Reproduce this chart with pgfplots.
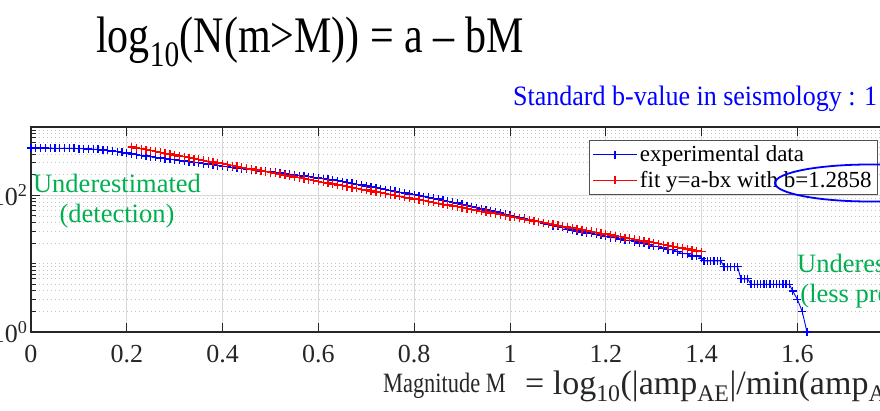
\documentclass[border=0pt]{standalone}
\usepackage{fontspec}
\setmainfont{Liberation Serif}
\usepackage{pgfplots}
\pgfplotsset{compat=1.18}
\definecolor{axgray}{rgb}{0.15,0.15,0.15}
\definecolor{ggreen}{RGB}{0,176,80}
\definecolor{sblue}{RGB}{0,0,255}
\newcommand{\fs}[1]{\fontsize{#1}{#1}\selectfont}
\begin{document}
\begin{tikzpicture}[x=1pt,y=1pt]
\path[use as bounding box, clip] (0,0) rectangle (880,410);
\begin{axis}[
  at={(31pt,78pt)}, anchor=south west,
  scale only axis, width=958pt, height=205pt,
  xmin=0, xmax=2, ymin=1, ymax=1000, ymode=log,
  xtick={0,0.2,0.4,0.6,0.8,1,1.2,1.4,1.6},
  ytick={1,100}, yticklabels={10\textsuperscript{0},10\textsuperscript{2}},
  minor ytick={2,3,4,5,6,7,8,9,10,20,30,40,50,60,70,80,90,200,300,400,500,600,700,800,900},
  tick align=inside, major tick length=9pt, minor tick length=5pt,
  axis line style={axgray, line width=1.4pt},
  every tick/.style={axgray, line width=1pt},
  xmajorgrids, ymajorgrids, yminorgrids,
  major grid style={gray!30, line width=0.9pt},
  minor grid style={gray!45, line width=0.8pt, dash pattern=on 0.8pt off 3.2pt},
  ticklabel style={font=\fs{26}, text=axgray},
  xticklabel style={yshift=-10pt},
  /pgf/number format/assume math mode=true,
  legend style={at={(0.5825,0.9366)}, anchor=north west, draw=axgray!80, line width=1pt,
    font=\fs{23}, inner sep=3pt, row sep=3pt, nodes={inner sep=2.5pt}, cells={anchor=west}},
  legend image code/.code={\draw[mark repeat=2,mark phase=2,#1] plot coordinates {(0pt,0pt) (22pt,0pt) (44pt,0pt)};},
]
\addplot[sblue, line width=0.9pt, mark=+, mark size=4pt, mark options={line width=1.3pt}] coordinates {
(0,492)(0.01,492)(0.02,491)(0.03,491)(0.04,490)(0.05,489)(0.06,488)(0.07,487)(0.08,486)(0.09,485)(0.10,483)(0.11,481)(0.12,478)(0.13,474)(0.14,469)(0.15,463)(0.16,456)(0.17,447)(0.18,437)(0.19,427)(0.20,415)
(0.21,403)(0.22,394)(0.23,385)(0.24,376)(0.25,367)(0.26,359)(0.27,352)(0.28,345)(0.29,338)(0.30,331)
(0.31,325)(0.32,318)(0.33,312)(0.34,305)(0.35,299)(0.36,292)(0.37,286)(0.38,280)(0.39,273)(0.40,267)
(0.41,262)(0.42,256)(0.43,251)(0.44,246)(0.45,241)(0.46,237)(0.47,233)(0.48,228)(0.49,224)(0.50,220)
(0.51,216)(0.52,212)(0.53,207)(0.54,203)(0.55,199)(0.56,195)(0.57,191)(0.58,187)(0.59,183)(0.60,180)
(0.61,175)(0.62,171)(0.63,167)(0.64,163)(0.65,159)(0.66,154)(0.67,149)(0.68,145)(0.69,141)(0.70,137)
(0.71,133)(0.72,129)(0.73,125)(0.74,121)(0.75,118)(0.76,114)(0.77,111)(0.78,108)(0.79,105)(0.80,102)
(0.81,99)(0.82,96)(0.83,93)(0.84,90)(0.85,88)(0.86,85)(0.87,82)(0.88,79)(0.89,77)(0.90,74)
(0.91,71)(0.92,68)(0.93,66)(0.94,63)(0.95,61)(0.96,59)(0.97,57)(0.98,55)(0.99,53)(1.00,51)
(1.01,49)(1.02,47)(1.03,46)(1.04,44)(1.05,42)(1.06,41)(1.07,39)(1.08,38)(1.09,36)(1.10,35)
(1.11,34)(1.12,32)(1.13,31)(1.14,30)(1.15,29)(1.16,28)(1.17,28)(1.18,27)(1.19,26)(1.20,25)
(1.21,24)(1.22,24)(1.23,23)(1.24,22)(1.25,22)(1.26,21)(1.27,20)(1.28,20)(1.29,19)(1.30,18)
(1.31,18)(1.32,17)(1.33,16)(1.34,16)(1.35,15)(1.36,14)(1.37,14)(1.38,13)(1.39,13)(1.40,12)
(1.405,11)(1.412,11)(1.419,11)(1.426,11)(1.433,11)(1.440,11)(1.447,9)(1.454,9)(1.461,9)(1.468,9)(1.475,9)
(1.482,6)(1.489,6)(1.496,6)
(1.503,5)(1.510,5)(1.516,5)(1.523,5)(1.530,5)(1.536,5)(1.543,5)(1.550,5)(1.556,5)(1.563,5)(1.570,5)(1.576,5)(1.583,5)
(1.590,4)(1.600,3)(1.610,2)(1.620,1)
};
\addlegendentry{experimental data}
\addplot[red, line width=0.9pt, mark=+, mark size=4pt, mark options={line width=1.3pt}] coordinates {
(0.21,508.1)(0.22,493.3)(0.23,478.9)(0.24,464.9)(0.25,451.4)(0.26,438.2)(0.27,425.4)(0.28,413.0)(0.29,400.9)(0.30,389.2)
(0.31,377.9)(0.32,366.9)(0.33,356.2)(0.34,345.8)(0.35,335.7)(0.36,325.9)(0.37,316.4)(0.38,307.2)(0.39,298.2)(0.40,289.5)
(0.41,281.1)(0.42,272.9)(0.43,264.9)(0.44,257.2)(0.45,249.7)(0.46,242.4)(0.47,235.3)(0.48,228.5)(0.49,221.8)(0.50,215.3)
(0.51,209.1)(0.52,203.0)(0.53,197.1)(0.54,191.3)(0.55,185.7)(0.56,180.3)(0.57,175.1)(0.58,170.0)(0.59,165.0)(0.60,160.2)
(0.61,155.5)(0.62,151.0)(0.63,146.6)(0.64,142.3)(0.65,138.1)(0.66,134.1)(0.67,130.2)(0.68,126.4)(0.69,122.7)(0.70,119.1)
(0.71,115.6)(0.72,112.2)(0.73,109.0)(0.74,105.8)(0.75,102.7)(0.76,99.7)(0.77,96.8)(0.78,94.0)(0.79,91.2)(0.80,88.6)
(0.81,86.0)(0.82,83.5)(0.83,81.1)(0.84,78.7)(0.85,76.4)(0.86,74.2)(0.87,72.0)(0.88,69.9)(0.89,67.9)(0.90,65.9)
(0.91,64.0)(0.92,62.1)(0.93,60.3)(0.94,58.5)(0.95,56.8)(0.96,55.2)(0.97,53.6)(0.98,52.0)(0.99,50.5)(1.00,49.0)
(1.01,47.6)(1.02,46.2)(1.03,44.8)(1.04,43.5)(1.05,42.3)(1.06,41.0)(1.07,39.8)(1.08,38.7)(1.09,37.5)(1.10,36.4)
(1.11,35.4)(1.12,34.3)(1.13,33.3)(1.14,32.4)(1.15,31.4)(1.16,30.5)(1.17,29.6)(1.18,28.8)(1.19,27.9)(1.20,27.1)
(1.21,26.3)(1.22,25.5)(1.23,24.8)(1.24,24.1)(1.25,23.4)(1.26,22.7)(1.27,22.0)(1.28,21.4)(1.29,20.8)(1.30,20.2)
(1.31,19.6)(1.32,19.0)(1.33,18.4)(1.34,17.9)(1.35,17.4)(1.36,16.9)(1.37,16.4)(1.38,15.9)(1.39,15.4)(1.40,15.0)
};
\addlegendentry{fit y=a-bx with b=1.2858}
\end{axis}
% annotations
\node[anchor=base west, inner sep=0pt, font=\fs{42}, yscale=1.22] at (96,357) {log\textsubscript{10}(N(m>M)) = a \textendash{} bM};
\node[anchor=base west, inner sep=0pt, font=\fs{26}, text=sblue, yscale=1.08] at (513,304) {Standard b-value in seismology : 1};
\node[anchor=base, inner sep=0pt, font=\fs{26.5}, text=ggreen] at (117,217) {Underestimated};
\node[anchor=base, inner sep=0pt, font=\fs{26.5}, text=ggreen] at (117,187) {(detection)};
\node[anchor=base, inner sep=0pt, font=\fs{26.5}, text=ggreen] at (881,138) {Underestimated};
\node[anchor=base, inner sep=0pt, font=\fs{26.5}, text=ggreen] at (881,108) {(less precision)};
\node[anchor=base west, inner sep=0pt, font=\fs{28}, text=axgray, xscale=0.8] at (383,18) {Magnitude M};
\node[anchor=base west, inner sep=0pt, font=\fs{34}, text=axgray] at (525,16) {= log\textsubscript{10}(|amp\textsubscript{AE}|/min(amp\textsubscript{AE}))};
\draw[sblue, line width=1.8pt] (870,227) ellipse [x radius=95, y radius=18.5];
\end{tikzpicture}
\end{document}
